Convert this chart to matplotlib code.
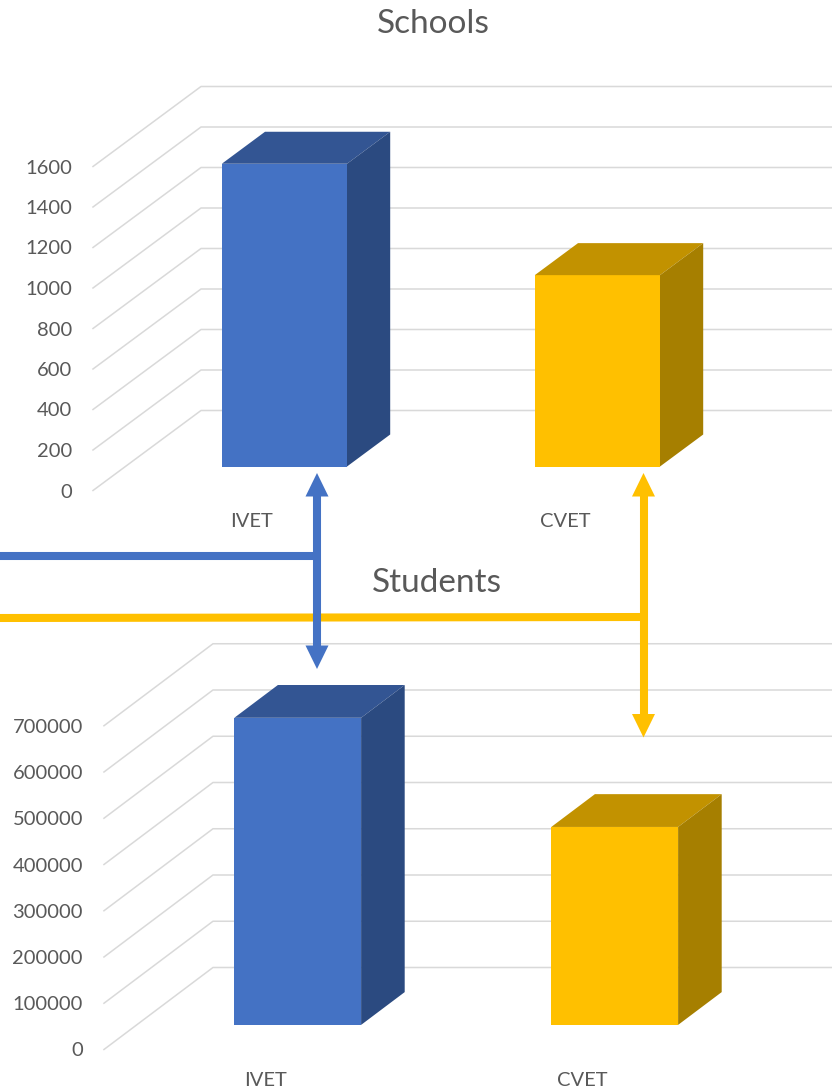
import matplotlib.pyplot as plt
from matplotlib.patches import Polygon

categories = ['IVET', 'CVET']
schools = [1495, 945]
students = [664000, 428000]
school_ticks = [0, 200, 400, 600, 800, 1000, 1200, 1400, 1600]
student_ticks = [0, 100000, 200000, 300000, 400000, 500000, 600000, 700000]

plt.rcParams['font.family'] = ['Lato', 'DejaVu Sans']

W, H = 832, 1090
fig = plt.figure(figsize=(W / 100, H / 100), dpi=100)

front_c = ['#4472C4', '#FFC000']
top_c = ['#335593', '#C29200']
side_c = ['#2B4A80', '#A67F00']
grid_c = '#D9D9D9'
text_c = '#595959'


def chart(values, ticks, x0, x_step, y0, px_per_unit, depth_px, tick_gap, label_drop):
    # one excel-style 3d column chart, faked with 2d patches on a full-figure axes
    ax = fig.add_axes([0, 0, 1, 1])
    ax.set_xlim(-x0 / x_step, (W - x0) / x_step)
    ax.set_ylim((y0 - H) / px_per_unit, y0 / px_per_unit)
    ax.axis('off')
    ax.patch.set_alpha(0)

    dx = depth_px[0] / x_step
    dy = depth_px[1] / px_per_unit
    left = -0.508
    right = (W - x0) / x_step

    for t in ticks:
        ax.plot([left, left + dx, right], [t, t + dy, t + dy], color=grid_c, lw=1.1, zorder=1)
        ax.annotate(str(t), (left, t), xytext=(-tick_gap, -1.5), textcoords='offset pixels',
                    ha='right', va='center', fontsize=14.5, color=text_c)

    # bar occupies depth 0.3 .. 0.7 of the floor
    f0, f1 = 0.3, 0.7
    bw = 0.4
    for i, v in enumerate(values):
        xc = i + f0 * dx
        ax.bar(xc, v, width=bw, bottom=f0 * dy, color=front_c[i], zorder=3,
               edgecolor=front_c[i], lw=0)
        xl, xr = xc - bw / 2, xc + bw / 2
        bdx, bdy = (f1 - f0) * dx, (f1 - f0) * dy
        yb, yt = f0 * dy, v + f0 * dy
        ax.add_patch(Polygon([(xl, yt), (xr, yt), (xr + bdx, yt + bdy), (xl + bdx, yt + bdy)],
                             closed=True, facecolor=top_c[i], edgecolor='none', zorder=3))
        ax.add_patch(Polygon([(xr, yb), (xr + bdx, yb + bdy), (xr + bdx, yt + bdy), (xr, yt)],
                             closed=True, facecolor=side_c[i], edgecolor='none', zorder=3))
        ax.annotate(categories[i], (i, 0), xytext=(0, -label_drop), textcoords='offset pixels',
                    ha='center', va='center', fontsize=14.5, color=text_c)
    return ax


chart(schools, school_ticks, 252, 313, 490.5, 0.2025, (108, 80), 21, 31)
chart(students, student_ticks, 265, 317, 1049.5, 0.0004625, (109, 82), 21, 30.5)

fig.text(433.7 / W, 1 - 24 / H, 'Schools', ha='center', va='center', fontsize=24, color=text_c)
fig.text(437 / W, 1 - 583 / H, 'Students', ha='center', va='center', fontsize=24, color=text_c)

# connector arrows, in pixel space
ov = fig.add_axes([0, 0, 1, 1])
ov.set_xlim(0, W)
ov.set_ylim(H, 0)
ov.axis('off')
ov.patch.set_alpha(0)

lw = 5.8
hw, hl = 11.5, 23.5


def head(x, tip, up, color):
    base = tip + hl if up else tip - hl
    ov.add_patch(Polygon([(x - hw, base), (x + hw, base), (x, tip)], closed=True,
                         facecolor=color, edgecolor='none', zorder=6))


yellow, blue = front_c[1], front_c[0]
ov.plot([0, 643.5], [618, 617], color=yellow, lw=lw, solid_capstyle='butt', zorder=4)
ov.plot([643.5, 643.5], [494, 716], color=yellow, lw=lw, solid_capstyle='butt', zorder=4)
head(643.5, 473, True, yellow)
head(643.5, 737.5, False, yellow)

ov.plot([0, 317], [556, 556], color=blue, lw=lw, solid_capstyle='butt', zorder=5)
ov.plot([317, 317], [494, 648], color=blue, lw=lw, solid_capstyle='butt', zorder=5)
head(317, 473, True, blue)
head(317, 669, False, blue)

fig.savefig('out.png', dpi=100)
